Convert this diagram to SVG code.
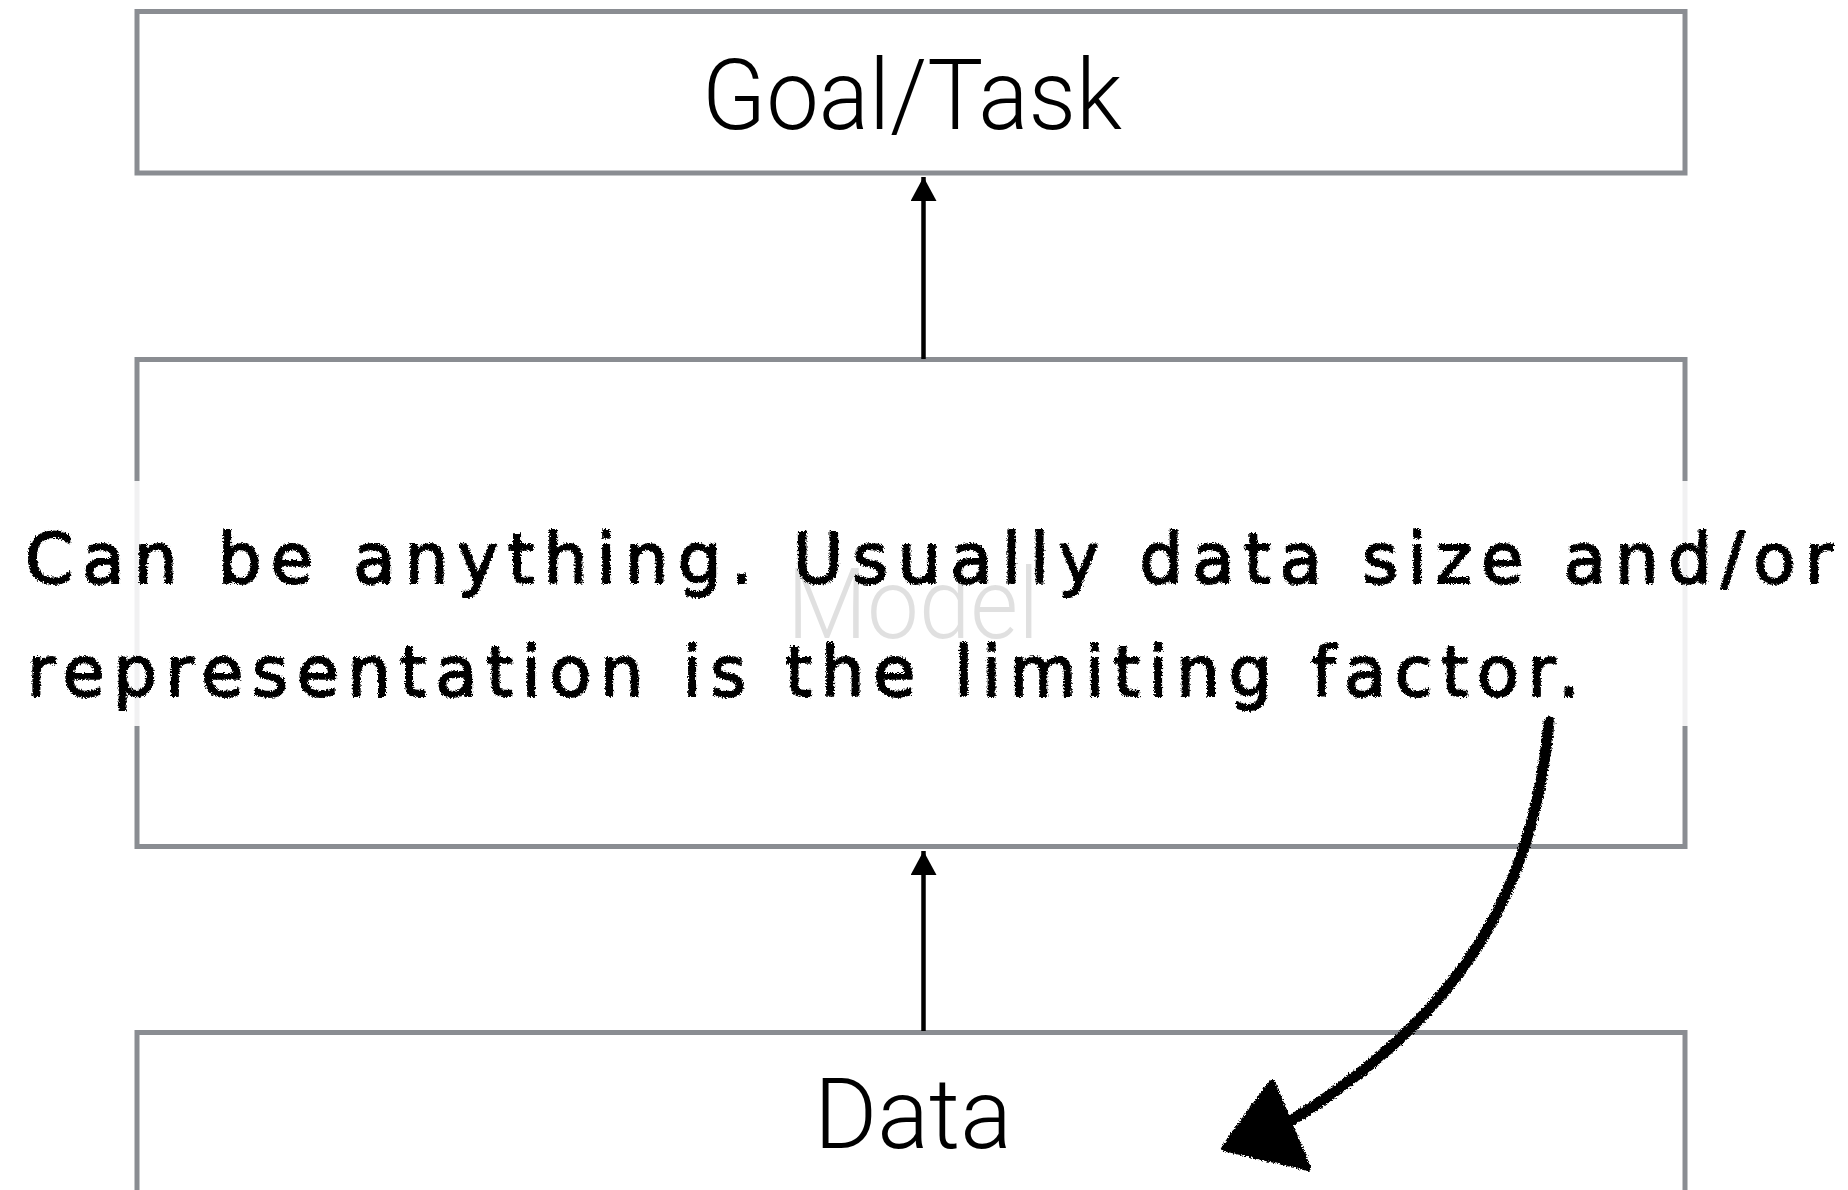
<svg xmlns="http://www.w3.org/2000/svg" width="1848" height="1190" viewBox="0 0 1848 1190">
  <style>
    .box { fill: #ffffff; stroke: #8a8d92; stroke-width: 5; }
    .label { font-family: Roboto, "Liberation Sans", sans-serif; font-weight: 300; font-size: 99px; fill: #000000; text-anchor: middle; }
    .link { stroke: #000000; stroke-width: 4.5; fill: none; }
    .note { font-family: "DejaVu Sans", "Open Sans", sans-serif; font-weight: 400; font-size: 69px; fill: #000000; stroke: #000000; stroke-width: 1.8; stroke-linejoin: round; }
    .sketch { stroke: #000000; stroke-width: 11; stroke-linecap: round; fill: none; }
  </style>
  <defs>
    <marker id="head" markerUnits="userSpaceOnUse" markerWidth="27" markerHeight="26" viewBox="0 0 26 27" refX="25" refY="13.5" orient="auto">
      <path d="M0,0 L25,13.5 L0,27 Z" fill="#000000"/>
    </marker>
    <!-- chalky, hand-drawn edge for the annotation -->
    <filter id="rough" x="-2%" y="-10%" width="104%" height="120%">
      <feTurbulence type="fractalNoise" baseFrequency="0.6" numOctaves="2" seed="7" result="noise"/>
      <feDisplacementMap in="SourceGraphic" in2="noise" scale="5" xChannelSelector="R" yChannelSelector="G"/>
    </filter>
  </defs>

  <rect width="1848" height="1190" fill="#ffffff"/>

  <g id="goal-task">
    <rect class="box" x="137" y="11.5" width="1548" height="161.5"/>
    <text class="label" x="912" y="129" textLength="420" lengthAdjust="spacingAndGlyphs">Goal/Task</text>
  </g>

  <g id="model">
    <rect class="box" x="137" y="359.5" width="1548" height="487"/>
    <text class="label" x="913" y="638" textLength="252" lengthAdjust="spacingAndGlyphs">Model</text>
  </g>

  <g id="data">
    <rect class="box" x="137" y="1032.5" width="1548" height="200"/>
    <text class="label" x="913" y="1148" textLength="198" lengthAdjust="spacingAndGlyphs">Data</text>
  </g>

  <g id="connectors">
    <line class="link" x1="923.5" y1="359" x2="923.5" y2="177" marker-end="url(#head)"/>
    <line class="link" x1="923.5" y1="1031" x2="923.5" y2="851" marker-end="url(#head)"/>
  </g>

  <g id="annotation">
    <!-- translucent note backdrop over the model box -->
    <rect x="10" y="481" width="1828" height="245" fill="#ffffff" fill-opacity="0.88"/>
    <g filter="url(#rough)">
      <text class="note" x="25" y="583" textLength="1808" lengthAdjust="spacing">Can be anything. Usually data size and/or</text>
      <text class="note" x="27" y="696" textLength="1553" lengthAdjust="spacing">representation is the limiting factor.</text>
      <path class="sketch" d="M1549,722 C1535,880 1470,1010 1292,1120"/>
      <path d="M1272,1082 L1224,1148 L1308,1168 Z" fill="#000000" stroke="#000000" stroke-width="6" stroke-linejoin="round"/>
    </g>
  </g>
</svg>
